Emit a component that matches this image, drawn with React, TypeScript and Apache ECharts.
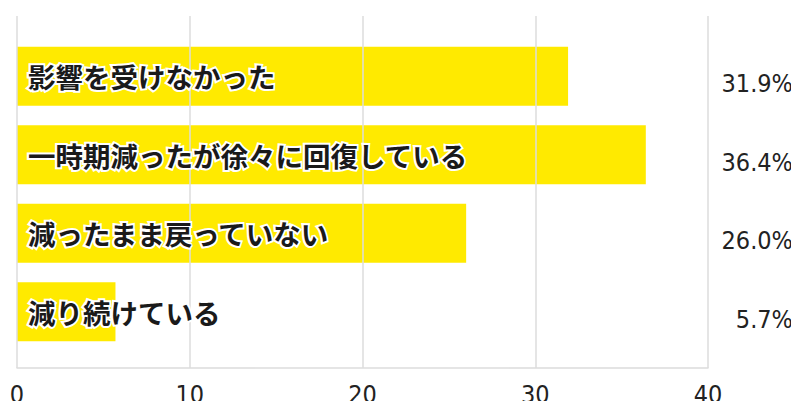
import React, { useEffect, useRef } from "react";
import * as echarts from "echarts";

const categories = [
  "影響を受けなかった",
  "一時期減ったが徐々に回復している",
  "減ったまま戻っていない",
  "減り続けている",
];
const values = [31.9, 36.4, 26.0, 5.7];
const xTicks = [0, 10, 20, 30, 40];

const YELLOW = "#FFEA00";
const NUM_FONT = "'DejaVu Sans Condensed', sans-serif";
const JP_FONT = "'Noto Sans CJK JP', sans-serif";

export default function App() {
  const ref = useRef<HTMLDivElement>(null);
  useEffect(() => {
    if (!ref.current) return;
    const chart = echarts.init(ref.current, undefined, { renderer: "svg" });
    chart.setOption({
      animation: false,
      grid: [
        { left: 17, right: 91, top: 37, height: 314 },
        { left: 17, right: 91, top: 16, height: 352 },
      ],
      xAxis: [
        { gridIndex: 0, type: "value", min: 0, max: 40, show: false },
        {
          gridIndex: 1,
          type: "value",
          min: xTicks[0],
          max: xTicks[xTicks.length - 1],
          interval: 10,
          z: 3,
          axisLine: { show: true, lineStyle: { color: "#dcdcdc", width: 1.5 } },
          axisTick: { show: false },
          splitLine: { show: true, lineStyle: { color: "#dcdcdc", width: 1.5 } },
          axisLabel: {
            margin: 14,
            fontFamily: NUM_FONT,
            fontSize: 25,
            lineHeight: 25,
            color: "#222",
          },
        },
      ],
      yAxis: [
        {
          gridIndex: 0,
          type: "category",
          inverse: true,
          data: categories,
          position: "right",
          axisLine: { show: false },
          axisTick: { show: false },
          splitLine: { show: false },
          axisLabel: {
            margin: 85,
            align: "right",
            verticalAlign: "top",
            lineHeight: 15,
            fontFamily: NUM_FONT,
            fontSize: 25,
            color: "#222",
            formatter: (_v: string, i: number) => values[i].toFixed(1) + "%",
          },
        },
        { gridIndex: 1, type: "value", show: false, min: 0, max: 1 },
      ],
      series: [
        {
          type: "bar",
          xAxisIndex: 0,
          yAxisIndex: 0,
          data: values,
          barWidth: 59,
          z: 2,
          itemStyle: { color: YELLOW },
        },
        {
          type: "bar",
          xAxisIndex: 0,
          yAxisIndex: 0,
          data: values,
          barWidth: 59,
          barGap: "-100%",
          z: 5,
          itemStyle: { color: "rgba(0,0,0,0)" },
          label: {
            show: true,
            position: "insideLeft",
            distance: 11,
            formatter: (p: any) => categories[p.dataIndex],
            fontFamily: JP_FONT,
            fontSize: 27.5,
            fontWeight: "bold",
            color: "#1a1a1a",
            textBorderColor: "#ffffff",
            textBorderWidth: 4,
          },
        },
      ],
    });
    return () => chart.dispose();
  }, []);
  return <div ref={ref} style={{ width: 799, height: 409, margin: -8 }} />;
}
